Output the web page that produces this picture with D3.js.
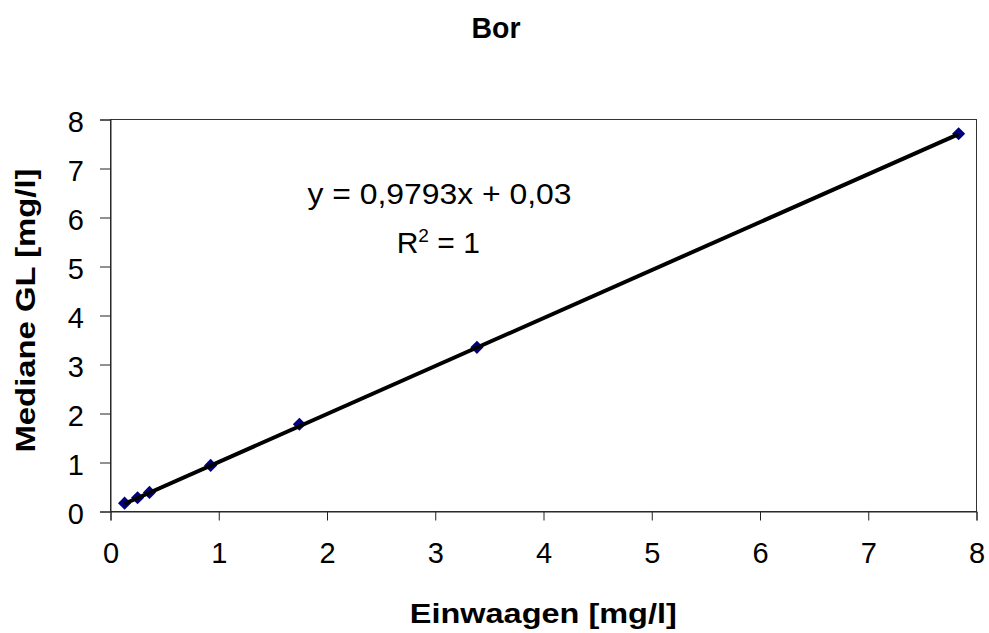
<!DOCTYPE html>
<html>
<head>
<meta charset="utf-8">
<script src="https://cdn.jsdelivr.net/npm/d3@7"></script>
<style>
  html, body { margin: 0; padding: 0; background: #fff; }
  svg { display: block; font-family: "Liberation Sans", Arial, sans-serif; }
</style>
</head>
<body>
<svg id="chart" width="989" height="633"></svg>
<script>
// Boron: weighed-in concentrations vs. median of the measured values
const einwaagen = [0.13, 0.25, 0.36, 0.925, 1.745, 3.385, 7.835];
const mediane   = [0.17, 0.28, 0.39, 0.94, 1.78, 3.35, 7.71];
const xTicks = [0, 1, 2, 3, 4, 5, 6, 7, 8];
const yTicks = [0, 1, 2, 3, 4, 5, 6, 7, 8];
const slope = 0.9793, intercept = 0.03;

const svg = d3.select("#chart");
const m = { left: 110.5, right: 976.5, top: 119.5, bottom: 511.5 };

const x = d3.scaleLinear().domain([0, 8]).range([m.left, m.right]);
const y = d3.scaleLinear().domain([0, 8]).range([m.bottom, m.top]);

// plot frame
svg.append("rect")
  .attr("x", m.left).attr("y", m.top)
  .attr("width", m.right - m.left).attr("height", m.bottom - m.top)
  .attr("fill", "none").attr("stroke", "#333").attr("stroke-width", 1);

// axes
const xAxis = svg.append("g")
  .attr("transform", `translate(0,${m.bottom})`)
  .call(d3.axisBottom(x).tickValues(xTicks).tickSize(9).tickPadding(0).tickFormat(d3.format("d")));
const yAxis = svg.append("g")
  .attr("transform", `translate(${m.left},0)`)
  .call(d3.axisLeft(y).tickValues(yTicks).tickSize(10.5).tickPadding(16).tickFormat(d3.format("d")));
[xAxis, yAxis].forEach(g => {
  g.select(".domain").attr("stroke", "#222");
  g.selectAll(".tick line").attr("stroke", "#222");
  g.selectAll(".tick text").attr("font-size", 29).attr("fill", "#000")
    .attr("font-family", "'Liberation Sans', Arial, sans-serif");
});
xAxis.selectAll(".tick text").attr("y", 51).attr("dy", null);
yAxis.selectAll(".tick text").attr("dy", null).attr("y", 11.5);

// linear trend line
const x0 = d3.min(einwaagen), x1 = d3.max(einwaagen);
const trend = () => svg.append("line")
  .attr("x1", x(x0)).attr("y1", y(slope * x0 + intercept))
  .attr("x2", x(x1)).attr("y2", y(slope * x1 + intercept))
  .attr("stroke", "#000").attr("stroke-width", 4);

// data markers (diamonds)
const diamond = d3.symbol().type(d3.symbolDiamond2).size(110);
svg.append("g").selectAll("path")
  .data(einwaagen.map((v, i) => [v, mediane[i]]))
  .join("path")
  .attr("d", diamond)
  .attr("transform", d => `translate(${x(d[0])},${y(d[1])})`)
  .attr("fill", "#000080");

// trend line over the markers
trend();

// title
svg.append("text").attr("x", 496).attr("y", 37.5)
  .attr("text-anchor", "middle").attr("font-size", 29).attr("font-weight", "bold")
  .attr("textLength", 49).attr("lengthAdjust", "spacingAndGlyphs")
  .text("Bor");

// axis titles
svg.append("text").attr("x", 543.3).attr("y", 623.3)
  .attr("text-anchor", "middle").attr("font-size", 28).attr("font-weight", "bold")
  .attr("textLength", 267).attr("lengthAdjust", "spacingAndGlyphs")
  .text("Einwaagen [mg/l]");
svg.append("text")
  .attr("transform", `translate(35,310.5) rotate(-90)`)
  .attr("text-anchor", "middle").attr("font-size", 28).attr("font-weight", "bold")
  .attr("textLength", 284).attr("lengthAdjust", "spacingAndGlyphs")
  .text("Mediane GL [mg/l]");

// regression equation
const fmt = (v, p) => d3.format(`.${p}f`)(v).replace(".", ",");
svg.append("text").attr("x", 439.5).attr("y", 204)
  .attr("text-anchor", "middle").attr("font-size", 30)
  .attr("textLength", 264).attr("lengthAdjust", "spacingAndGlyphs")
  .text(`y = ${fmt(slope, 4)}x + ${fmt(intercept, 2)}`);
const r2 = svg.append("text").attr("x", 396.7).attr("y", 253.3)
  .attr("font-size", 30);
r2.append("tspan").text("R");
r2.append("tspan").attr("font-size", 19).attr("dy", -11.6).text("2");
r2.append("tspan").attr("dy", 11.6).text(" = 1");
</script>
</body>
</html>
